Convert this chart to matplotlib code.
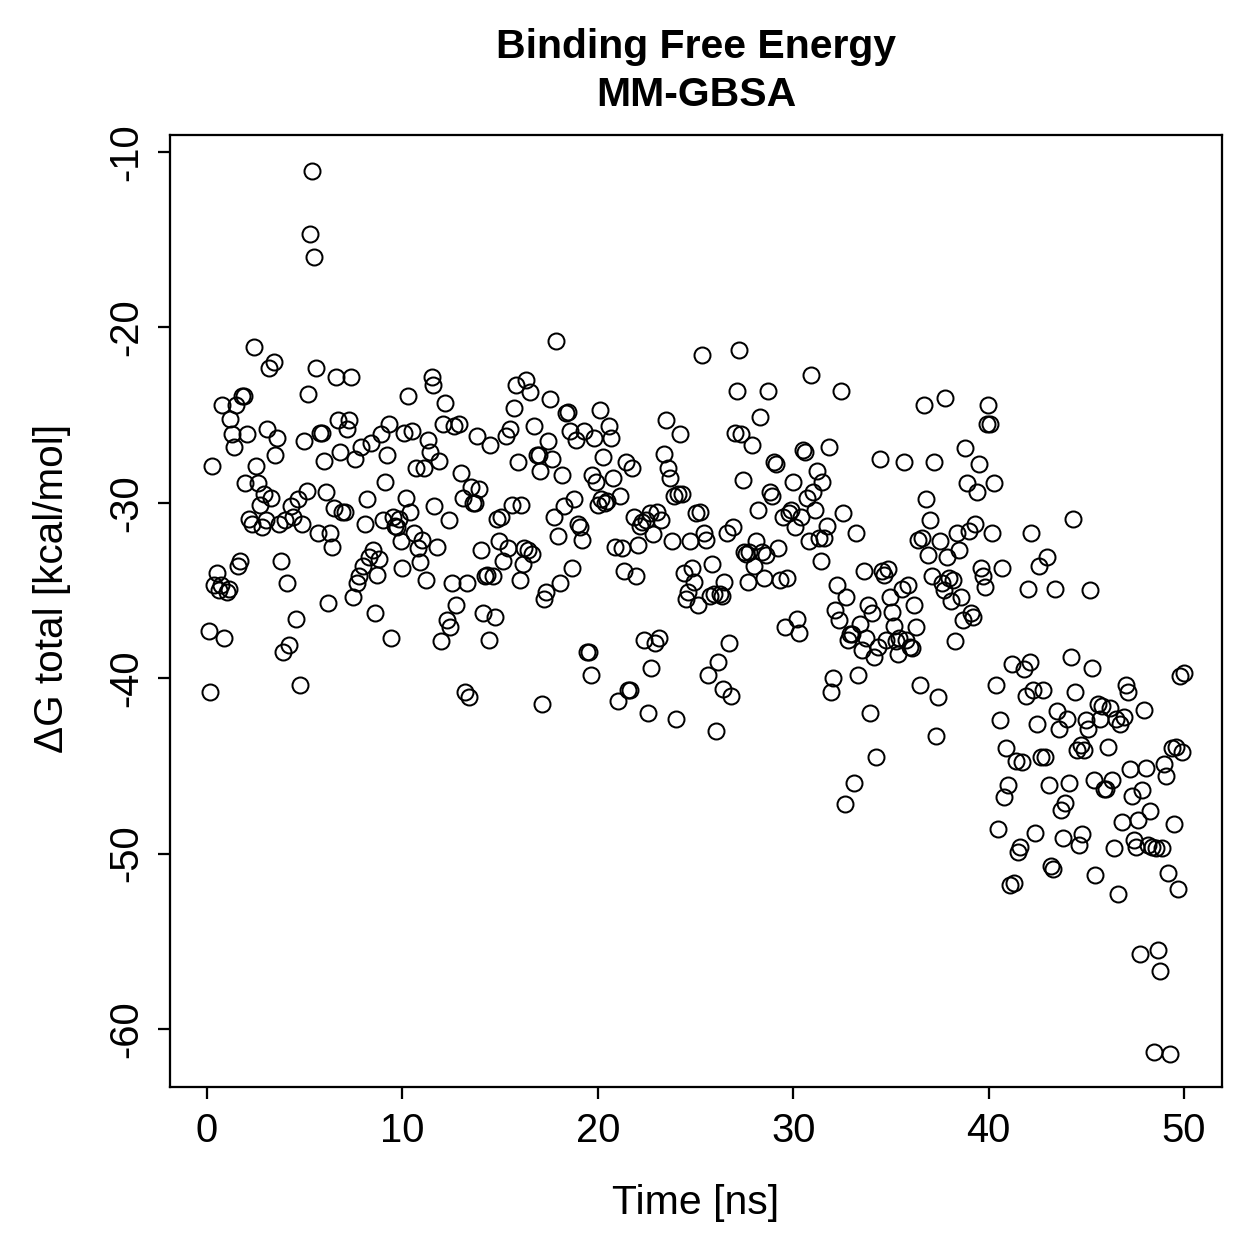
import matplotlib
matplotlib.use("Agg")
import matplotlib.pyplot as plt

time_ns = [
    0.10, 0.15, 0.26, 0.36, 0.51, 0.61, 0.77, 0.87, 0.70,
    1.02, 1.13, 1.18, 1.28, 1.38, 1.48, 1.59, 1.69, 1.79, 1.89, 1.94, 2.05,
    2.15, 2.30, 2.41, 2.51, 2.61, 2.71, 2.81, 2.92, 3.02, 3.07, 3.17, 3.28, 3.43, 3.48, 3.58,
    3.68, 3.79, 3.89, 3.99, 4.09, 4.20, 4.30, 4.40, 4.55, 4.66, 4.76,
    4.86, 4.96, 5.12, 5.17, 5.27, 5.37, 5.48, 5.58, 5.68, 5.78, 5.89, 5.99,
    6.09, 6.19, 6.29, 6.40, 6.50, 6.60, 6.70, 6.81, 6.91, 7.06, 7.16, 7.27, 7.37,
    7.47, 7.57, 7.68, 7.78, 7.88, 7.98, 8.09, 8.19, 8.29, 8.39, 8.50, 8.60,
    8.70, 8.80, 8.90, 9.01, 9.11, 9.21, 9.31, 9.42, 9.52, 9.62, 9.72, 9.83,
    9.93, 9.98, 10.08, 10.18, 10.29, 10.39, 10.49, 10.59, 10.70, 10.80, 10.90, 11.00, 11.11,
    11.21, 11.31, 11.41, 11.52, 11.57, 11.62, 11.77, 11.87, 11.98, 12.08, 12.18, 12.28, 12.39, 12.44,
    12.54, 12.64, 12.74, 12.90, 13.00, 13.10, 13.20, 13.31, 13.41, 13.51, 13.61, 13.72,
    13.82, 13.92, 14.02, 14.12, 14.23, 14.33, 14.43, 14.48, 14.64, 14.74, 14.84, 14.94,
    15.05, 15.15, 15.30, 15.40, 15.51, 15.61, 15.71, 15.81, 15.92, 16.02, 16.07, 16.17,
    16.22, 16.33, 16.43, 16.53, 16.63, 16.73, 16.89, 16.99, 17.04, 17.14, 17.25, 17.35, 17.45, 17.55,
    17.66, 17.76, 17.86, 17.96, 18.07, 18.17, 18.27, 18.37, 18.47, 18.58, 18.68, 18.78,
    18.88, 18.99, 19.09, 19.19, 19.29, 19.45, 19.55, 19.65, 19.70, 19.81, 19.91, 20.01, 20.11,
    20.16, 20.27, 20.37, 20.47, 20.57, 20.68, 20.78, 20.88, 21.03, 21.14, 21.24, 21.34,
    21.44, 21.55, 21.65, 21.75, 21.85, 21.95, 22.06, 22.16, 22.26, 22.36, 22.47, 22.57, 22.67,
    22.72, 22.82, 22.93, 23.03, 23.13, 23.23, 23.39, 23.49, 23.59, 23.70, 23.80, 23.90,
    24.00, 24.10, 24.21, 24.31, 24.41, 24.51, 24.62, 24.72, 24.82, 24.92, 25.03, 25.13, 25.23,
    25.33, 25.44, 25.54, 25.64, 25.74, 25.84, 25.95, 26.05, 26.15, 26.25, 26.36, 26.41, 26.46,
    26.61, 26.71, 26.82, 26.92, 27.02, 27.12, 27.23, 27.33, 27.43, 27.48, 27.58, 27.69, 27.74,
    27.89, 27.99, 28.10, 28.20, 28.30, 28.40, 28.51, 28.61, 28.71, 28.81, 28.92, 29.02,
    29.12, 29.22, 29.32, 29.48, 29.58, 29.68, 29.79, 29.89, 29.99, 30.09, 30.19, 30.30,
    30.40, 30.50, 30.60, 30.71, 30.81, 30.91, 31.01, 31.12, 31.22, 31.32, 31.42, 31.47, 31.58,
    31.73, 31.83, 31.93, 32.04, 32.14, 32.24, 32.34, 32.45, 32.55, 32.65, 32.70, 32.80, 32.91,
    33.01, 33.11, 33.21, 33.32, 33.42, 33.52, 33.62, 33.73, 33.83, 33.93, 34.03, 34.14,
    34.24, 34.34, 34.44, 34.54, 34.65, 34.75, 34.85, 34.95, 35.06, 35.16, 35.26, 35.36, 35.41,
    35.57, 35.67, 35.77, 35.88, 35.98, 36.08, 36.18, 36.28, 36.39, 36.49, 36.59, 36.69,
    36.80, 36.90, 37.00, 37.10, 37.21, 37.31, 37.41, 37.51, 37.62, 37.72, 37.77, 37.87, 37.97,
    38.08, 38.18, 38.28, 38.38, 38.49, 38.59, 38.69, 38.79, 38.89, 39.00, 39.10, 39.20, 39.30,
    39.41, 39.51, 39.61, 39.71, 39.82, 39.92, 39.97, 40.07, 40.17, 40.28, 40.38, 40.48,
    40.58, 40.69, 40.79, 40.89, 40.99, 41.10, 41.20, 41.30, 41.40, 41.50, 41.61, 41.71, 41.81,
    41.91, 42.02, 42.12, 42.17, 42.27, 42.37, 42.48, 42.58, 42.68, 42.78, 42.89, 42.99, 43.09,
    43.19, 43.30, 43.40, 43.50, 43.60, 43.71, 43.81, 43.91, 44.01, 44.11, 44.22, 44.32, 44.42,
    44.52, 44.63, 44.73, 44.78, 44.88, 44.98, 45.09, 45.19, 45.29, 45.39, 45.45, 45.60,
    45.70, 45.80, 45.91, 46.01, 46.11, 46.21, 46.32, 46.42, 46.52, 46.62, 46.72, 46.83, 46.93,
    47.03, 47.13, 47.24, 47.34, 47.44, 47.54, 47.65, 47.75, 47.85, 47.95, 48.06, 48.16,
    48.26, 48.36, 48.46, 48.57, 48.67, 48.77, 48.87, 48.98, 49.08, 49.18, 49.28, 49.39, 49.49,
    49.59, 49.69, 49.80, 49.90, 50.00,
]

dg_total = [
    -37.3, -40.8, -27.9, -34.7, -34.0, -35.0, -24.4, -37.7, -34.7,
    -35.1, -34.9, -25.2, -26.1, -26.8, -24.4, -33.6, -33.3, -23.9, -23.9, -28.9, -26.1,
    -30.9, -31.2, -21.1, -27.9, -28.9, -30.1, -31.4, -29.5, -31.0, -25.8, -22.3, -29.7, -22.0, -27.3, -26.3,
    -31.2, -33.3, -38.5, -31.0, -34.6, -38.1, -30.2, -30.8, -36.6, -29.8, -40.4,
    -31.2, -26.5, -29.3, -23.8, -14.7, -11.1, -16.0, -22.3, -31.7, -26.0, -26.0, -27.6,
    -29.4, -35.7, -31.7, -32.5, -30.3, -22.8, -25.3, -27.1, -30.5, -30.5, -25.8, -25.3, -22.8,
    -35.4, -27.5, -34.6, -34.2, -26.8, -33.6, -31.2, -29.8, -33.1, -26.6, -32.7, -36.3,
    -34.1, -33.2, -26.1, -31.0, -28.8, -27.3, -25.5, -37.7, -30.8, -31.3, -31.4, -30.9,
    -32.2, -33.7, -26.0, -29.7, -23.9, -30.5, -25.9, -31.7, -28.0, -32.6, -33.4, -32.1, -28.0,
    -34.4, -26.4, -27.1, -22.8, -23.3, -30.2, -32.5, -27.6, -37.9, -25.5, -24.3, -36.7, -31.0, -37.1,
    -34.6, -25.6, -35.8, -25.5, -28.3, -29.7, -40.8, -34.6, -41.1, -29.1, -30.0, -30.0,
    -26.2, -29.2, -32.7, -36.3, -34.2, -34.1, -37.8, -26.7, -34.2, -36.5, -30.9, -32.2,
    -30.8, -33.3, -26.2, -32.6, -25.8, -30.1, -24.6, -23.3, -27.7, -34.4, -30.1, -33.5,
    -32.6, -23.0, -32.7, -23.7, -32.9, -25.6, -27.3, -27.3, -28.2, -41.5, -35.5, -35.1, -26.5, -24.1,
    -27.5, -30.8, -20.8, -31.9, -34.6, -28.4, -30.2, -24.9, -24.8, -25.9, -33.7, -29.8,
    -26.4, -31.2, -31.4, -32.1, -25.9, -38.5, -38.5, -39.8, -28.4, -26.3, -28.8, -30.1, -24.7,
    -29.8, -27.4, -30.0, -29.9, -25.6, -26.3, -28.6, -32.5, -41.3, -29.6, -32.6, -33.9,
    -27.7, -40.7, -40.7, -28.0, -30.8, -34.2, -32.4, -31.3, -31.1, -37.8, -31.0, -42.0, -30.6,
    -39.4, -31.8, -38.0, -30.5, -37.7, -31.0, -27.2, -25.3, -28.0, -28.6, -32.2, -29.6,
    -42.3, -29.5, -26.1, -29.5, -34.0, -35.5, -35.1, -32.2, -33.7, -34.5, -30.6, -35.8, -30.5,
    -21.6, -31.7, -32.1, -39.8, -35.3, -33.5, -35.2, -43.0, -39.1, -35.2, -35.3, -40.6, -34.5,
    -31.7, -38.0, -41.0, -31.4, -26.0, -23.6, -21.3, -26.1, -28.7, -32.8, -32.9, -34.5, -32.8,
    -26.7, -33.6, -32.2, -30.4, -25.1, -32.8, -34.3, -33.0, -23.6, -29.4, -29.6, -27.7,
    -27.8, -32.6, -34.4, -30.8, -37.1, -34.3, -30.6, -30.4, -28.8, -31.4, -36.6, -37.4,
    -30.8, -27.0, -27.1, -29.7, -32.2, -22.7, -29.4, -30.4, -28.2, -32.0, -33.3, -28.8, -32.0,
    -31.3, -26.8, -40.8, -40.0, -36.1, -34.7, -36.7, -23.6, -30.6, -47.2, -35.4, -37.8, -37.5,
    -37.5, -46.0, -31.7, -39.8, -36.9, -38.4, -33.9, -37.7, -35.8, -42.0, -36.3, -38.8,
    -44.5, -38.2, -27.5, -33.9, -34.1, -37.8, -33.8, -35.4, -36.2, -37.0, -37.9, -38.6, -37.7,
    -34.9, -27.7, -37.8, -34.7, -38.2, -38.3, -35.8, -37.1, -32.1, -40.4, -32.0, -24.4,
    -29.8, -33.0, -31.0, -34.2, -27.7, -43.3, -41.1, -32.2, -34.6, -35.0, -24.0, -33.1, -34.3,
    -35.6, -34.4, -37.9, -31.7, -32.7, -35.4, -36.7, -26.9, -28.9, -31.6, -36.3, -36.5, -31.2,
    -29.4, -27.8, -33.7, -34.2, -34.8, -25.5, -24.4, -25.5, -31.7, -28.9, -40.4, -48.6,
    -42.4, -33.7, -46.8, -44.0, -46.1, -51.8, -39.2, -51.7, -44.7, -49.9, -49.6, -44.8, -39.5,
    -41.0, -34.9, -39.1, -31.7, -40.7, -48.8, -42.6, -33.6, -44.5, -40.7, -44.5, -33.1, -46.1,
    -50.7, -50.9, -34.9, -41.9, -42.9, -47.5, -49.1, -47.1, -42.3, -46.0, -38.8, -30.9, -40.8,
    -44.1, -49.5, -43.8, -48.9, -44.1, -42.4, -42.9, -35.0, -39.4, -45.8, -51.2, -41.5,
    -42.3, -41.6, -46.3, -46.3, -43.9, -41.7, -45.8, -49.7, -42.3, -52.3, -42.6, -48.2, -42.2,
    -40.4, -40.8, -45.2, -46.7, -49.2, -49.6, -48.1, -55.7, -46.4, -41.8, -45.1, -49.5,
    -47.6, -49.6, -61.3, -49.7, -55.5, -56.7, -49.7, -44.9, -45.6, -51.1, -61.4, -44.0, -48.3,
    -43.9, -52.0, -39.9, -44.2, -39.7,
]

x_ticks = [0, 10, 20, 30, 40, 50]
y_ticks = [-10, -20, -30, -40, -50, -60]

plt.rcParams['font.family'] = ['Liberation Sans', 'DejaVu Sans']

W = 1259
fig = plt.figure(figsize=(W / 180, W / 180), dpi=180)
ax = fig.add_axes([170 / W, 1 - 1087 / W, (1222 - 170) / W, (1087 - 135) / W])

ax.plot(time_ns, dg_total, linestyle='none', marker='o', markersize=6.4,
        markerfacecolor='none', markeredgecolor='black', markeredgewidth=0.8)

ax.set_xlim(-1.894, 51.94)
ax.set_ylim(-63.31, -9.03)

ax.set_xticks(x_ticks)
ax.set_yticks(y_ticks)
ax.set_yticklabels([str(v) for v in y_ticks], rotation=90, va='center')
ax.tick_params(direction='out', length=4.8, width=0.9, labelsize=16, pad=5)

for s in ax.spines.values():
    s.set_linewidth(0.9)

fig.text(696 / W, 1 - 47 / W, 'Binding Free Energy', ha='center', va='center',
         fontsize=16.4, fontweight='bold')
fig.text(696 / W, 1 - 95 / W, 'MM-GBSA', ha='center', va='center',
         fontsize=16.4, fontweight='bold')
fig.text(696 / W, 1 - 1203 / W, 'Time [ns]', ha='center', va='center', fontsize=16.4)
fig.text(52 / W, 1 - 588 / W, 'ΔG total [kcal/mol]', ha='center', va='center',
         fontsize=16.2, rotation=90)

fig.savefig('out.png', dpi=180, facecolor='white')
